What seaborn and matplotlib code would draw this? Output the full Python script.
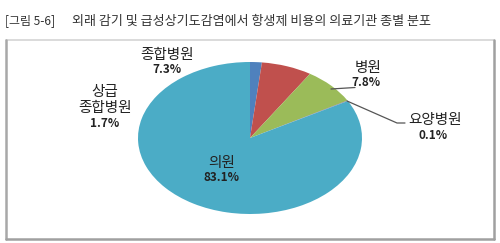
import matplotlib
matplotlib.use("Agg")
import matplotlib.pyplot as plt
import seaborn as sns

# ---- data ----
categories = ["상급종합병원", "종합병원", "병원", "요양병원", "의원"]
shares = [1.7, 7.3, 7.8, 0.1, 83.1]
label_names = ["상급\n종합병원", "종합병원", "병원", "요양병원", "의원"]
title_tag = "[그림 5-6]"
title_text = "외래 감기 및 급성상기도감염에서 항생제 비용의 의료기관 종별 분포"

# ---- style ----
colors = ["#4F81BD", "#C0504D", "#9BBB59", "#8064A2", "#4BACC6"]
sns.set_theme(style="white")
plt.rcParams['font.family'] = ['Noto Sans CJK KR', 'DejaVu Sans']

W, H = 500, 243
fig = plt.figure(figsize=(W / 100, H / 100), dpi=100)

# pie (elliptical, drawn in an axes spanning the ellipse bbox)
cx, cy, rx, ry = 250, 138, 112, 76
ax = fig.add_axes([(cx - rx) / W, 1 - (cy + ry) / H, 2 * rx / W, 2 * ry / H])
ax.pie(shares, colors=colors, startangle=90, counterclock=False,
       wedgeprops=dict(linewidth=0))
ax.set_aspect('auto')
ax.set_xlim(-1, 1)
ax.set_ylim(-1, 1)
ax.axis('off')

# overlay in pixel coordinates
ov = fig.add_axes([0, 0, 1, 1], zorder=3)
ov.set_xlim(0, W)
ov.set_ylim(H, 0)
ov.axis('off')
ov.patch.set_visible(False)

# frame box
ov.plot([6, 494], [40.5, 40.5], color="#d4d4d4", lw=1.2)
ov.plot([6, 6], [40.5, 239], color="#a8a8a8", lw=1.8)
ov.plot([494, 494], [40.5, 239], color="#a0a0a0", lw=1.8)
ov.plot([6, 494], [239, 239], color="#a0a0a0", lw=1.8)

# title
ov.text(5, 21, title_tag, fontsize=8.6, color="#333333", va="center", ha="left")
ov.text(72, 21, title_text, fontsize=9.4, color="#333333", va="center", ha="left")

# labels: name line positions and pct positions
name_pos = [[(105, 92), (105, 108)], [(167, 55)], [(368, 68)], [(435, 120)], [(222, 163)]]
pct_pos = [(105, 123), (167, 69), (366, 82), (433, 135), (221, 177)]
for name, npos, ppos, v in zip(label_names, name_pos, pct_pos, shares):
    for line, (x, y) in zip(name.split("\n"), npos):
        ov.text(x, y, line, fontsize=10.5, color="#222222", ha="center", va="center")
    ov.text(ppos[0], ppos[1], f"{v:.1f}%", fontsize=8.5, color="#222222",
            ha="center", va="center", fontweight="bold")

# leader lines
ov.plot([331, 355], [89, 87.5], color="#555555", lw=0.9)
ov.plot([347, 397, 405], [101, 123, 123], color="#555555", lw=0.9)

fig.savefig("out.png", dpi=100)
